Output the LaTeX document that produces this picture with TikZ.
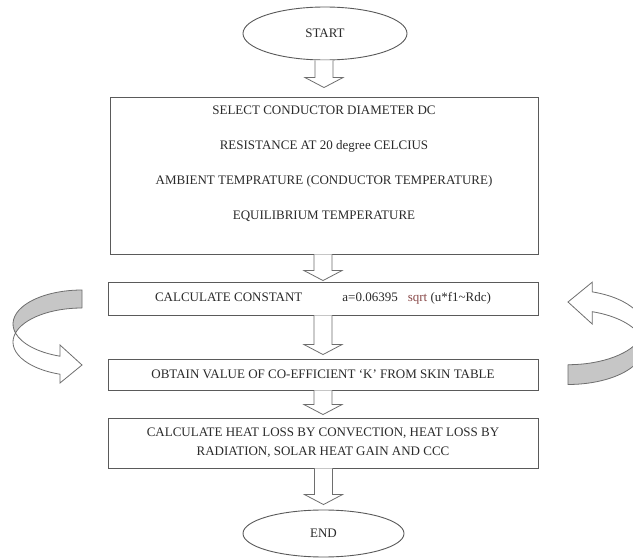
\documentclass[tikz,border=0pt]{standalone}
\usepackage{fontspec}
\setmainfont{Liberation Serif}
\usetikzlibrary{calc,shapes.geometric}
\definecolor{linegray}{HTML}{5A5A5A}
\definecolor{textcol}{HTML}{2A2A2A}
\definecolor{arrgray}{HTML}{6E6E6E}
\definecolor{bandgray}{HTML}{C6C6C6}
\definecolor{sqrtred}{HTML}{8A4A4A}
\tikzset{
  box/.style={draw=linegray, line width=0.9pt, fill=white, inner sep=0pt},
  oval/.style={ellipse, draw=linegray, line width=0.9pt, fill=white, inner sep=0pt},
  blockarr/.style={draw=arrgray, line width=0.8pt, fill=white, line join=miter},
  txt/.style={font=\fontsize{13}{16}\selectfont, text=textcol, align=center},
  backband/.style={draw=arrgray, fill=bandgray, line width=0.8pt, line join=round},
  frontband/.style={draw=arrgray, fill=white, line width=0.8pt, line join=miter},
}
% block arrow from the bottom of #1 to the top of #2, tip #3 pt above #2
\newcommand\barrow[3]{%
  \draw[blockarr] let \p1=(#1.south), \p2=(#2.north) in
    (\x2-9pt,\y1) -- (\x2-9pt,\y2+#3pt+10pt) -- (\x2-19pt,\y2+#3pt+10pt)
    -- (\x2,\y2+#3pt) -- (\x2+19pt,\y2+#3pt+10pt) -- (\x2+9pt,\y2+#3pt+10pt)
    -- (\x2+9pt,\y1);}
% curved loop arrow (back band shaded, front band white)
\newcommand\loopshape{%
  \draw[backband] (82,268) arc[start angle=90, end angle=195.35, x radius=69, y radius=34]
    arc[start angle=164.65, end angle=90, x radius=69, y radius=34] -- cycle;
  \draw[frontband] (15.46,225) arc[start angle=164.65, end angle=251.4, x radius=69, y radius=34]
    -- (60,175) -- (82,193) -- (60,213) -- (60,201.8)
    arc[start angle=251.4, end angle=195.35, x radius=69, y radius=34] -- cycle;}
\begin{document}
\begin{tikzpicture}[x=1pt, y=1pt]
  \useasboundingbox (0,0) rectangle (633,558);
  \fill[white] (0,0) rectangle (633,558);
  \clip (0,0) rectangle (633,558);

  \node[oval, txt, minimum width=164pt, minimum height=53pt] (start) at (325,524.5) {START};
  \node[box, minimum width=428pt, minimum height=157pt] (input) at (324,382.5) {};
  \node[txt] (inputtext) at (324,394) {SELECT CONDUCTOR DIAMETER DC\\[19pt]
    RESISTANCE AT 20 degree CELCIUS\\[19pt]
    AMBIENT TEMPRATURE (CONDUCTOR TEMPERATURE)\\[19pt]
    EQUILIBRIUM TEMPERATURE};
  \node[box, txt, minimum width=430pt, minimum height=33pt] (calc) at (323,259.5)
    {CALCULATE CONSTANT\hspace{40pt}a=0.06395\hspace{10pt}{\color{sqrtred}sqrt} (u*f1\textasciitilde Rdc)};
  \node[box, txt, minimum width=430pt, minimum height=31pt] (obtain) at (323,183.5)
    {OBTAIN VALUE OF CO-EFFICIENT `K' FROM SKIN TABLE};
  \node[box, txt, minimum width=430pt, minimum height=50pt] (heat) at (323,115)
    {CALCULATE HEAT LOSS BY CONVECTION, HEAT LOSS BY\\[3pt]RADIATION, SOLAR HEAT GAIN AND CCC};
  \node[oval, txt, minimum width=161pt, minimum height=47pt] (end) at (323.5,24.5) {END};

  \barrow{start}{input}{9}
  \barrow{input}{calc}{1}
  \barrow{calc}{obtain}{4}
  \barrow{obtain}{heat}{3}
  \barrow{heat}{end}{5}

  \loopshape
  \begin{scope}[cm={-1.1,0,0,-1.1,(658.2,468.3)}]
    \loopshape
  \end{scope}
\end{tikzpicture}
\end{document}
